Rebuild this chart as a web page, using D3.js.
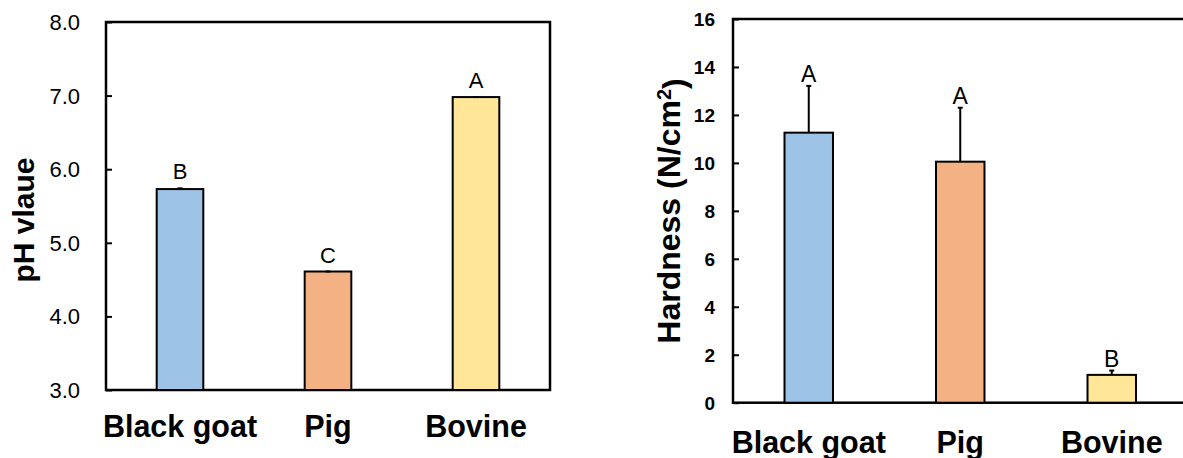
<!DOCTYPE html>
<html>
<head>
<meta charset="utf-8">
<script src="https://cdn.jsdelivr.net/npm/d3@7"></script>
<style>
  html, body { margin: 0; padding: 0; background: #fff; }
  svg { display: block; font-family: Arial, "Liberation Sans", sans-serif; }
</style>
</head>
<body>
<svg id="chart" width="1183" height="458"></svg>
<script>
// Meat samples
const categories = ["Black goat", "Pig", "Bovine"];
const barColors = ["#9DC3E6", "#F4B183", "#FFE699"];

// pH values
const phValues = [5.73, 4.61, 6.98];
const phErrors = [0.01, 0, 0];
const phLetters = ["B", "C", "A"];
const phTicks = [3, 4, 5, 6, 7, 8];

// Hardness (N/cm²)
const hardValues = [11.26, 10.05, 1.16];
const hardErrors = [1.95, 2.25, 0.18];
const hardLetters = ["A", "A", "B"];
const hardTicks = [0, 2, 4, 6, 8, 10, 12, 14, 16];

const svg = d3.select("#chart");

function panel(cfg) {
  const g = svg.append("g");
  const x = d3.scaleBand()
    .domain(categories)
    .range([cfg.left, cfg.right])
    .paddingInner(cfg.pad)
    .paddingOuter(cfg.pad / 2);
  const y = d3.scaleLinear().domain(cfg.domain).range([cfg.bottom, cfg.top]);

  // frame
  g.append("rect")
    .attr("x", cfg.left).attr("y", cfg.top)
    .attr("width", cfg.right - cfg.left).attr("height", cfg.bottom - cfg.top)
    .attr("fill", "none").attr("stroke", "#000").attr("stroke-width", 2.5);

  // inward ticks on the y axis
  const yAxis = d3.axisRight(y).tickValues(cfg.ticks).tickSize(6).tickFormat("");
  const ya = g.append("g").attr("transform", `translate(${cfg.left},0)`).call(yAxis);
  ya.select(".domain").remove();
  ya.selectAll(".tick line").attr("stroke", "#000").attr("stroke-width", 2);

  // tick labels
  g.selectAll(".ylab").data(cfg.ticks).join("text")
    .attr("x", cfg.labelX).attr("y", d => y(d))
    .attr("dy", "0.36em")
    .attr("text-anchor", "end")
    .attr("font-size", cfg.tickFont)
    .attr("font-weight", cfg.tickWeight)
    .attr("fill", "#000")
    .text(cfg.fmt);

  // bars
  g.selectAll(".bar").data(cfg.values).join("rect")
    .attr("x", (d, i) => x(categories[i]))
    .attr("y", d => y(d))
    .attr("width", x.bandwidth())
    .attr("height", d => cfg.bottom - y(d))
    .attr("fill", (d, i) => barColors[i])
    .attr("stroke", "#000").attr("stroke-width", 2);

  // upper error bars
  const cx = i => x(categories[i]) + x.bandwidth() / 2;
  g.selectAll(".err").data(cfg.values).join("line")
    .attr("x1", (d, i) => cx(i)).attr("x2", (d, i) => cx(i))
    .attr("y1", d => y(d)).attr("y2", (d, i) => y(d + cfg.errors[i]))
    .attr("stroke", "#000").attr("stroke-width", 2);
  g.selectAll(".cap").data(cfg.values).join("line")
    .attr("x1", (d, i) => cx(i) - 2.5).attr("x2", (d, i) => cx(i) + 2.5)
    .attr("y1", (d, i) => y(d + cfg.errors[i])).attr("y2", (d, i) => y(d + cfg.errors[i]))
    .attr("stroke", "#000").attr("stroke-width", 2);

  // significance letters
  g.selectAll(".sig").data(cfg.values).join("text")
    .attr("x", (d, i) => cx(i))
    .attr("y", (d, i) => y(d + cfg.errors[i]) - cfg.letterGap)
    .attr("text-anchor", "middle")
    .attr("font-size", cfg.letterFont)
    .attr("fill", "#000")
    .text((d, i) => cfg.letters[i]);

  // category labels
  g.selectAll(".xlab").data(categories).join("text")
    .attr("x", d => x(d) + x.bandwidth() / 2)
    .attr("y", cfg.xLabelY)
    .attr("text-anchor", "middle")
    .attr("font-size", 30.5)
    .attr("font-weight", "bold")
    .attr("fill", "#000")
    .text(d => d);

  // y title
  const t = g.append("text")
    .attr("transform", `translate(${cfg.titleX},${cfg.titleY}) rotate(-90)`)
    .attr("text-anchor", "middle")
    .attr("font-size", cfg.titleFont)
    .attr("font-weight", "bold")
    .attr("fill", "#000");
  cfg.title(t);
}

panel({
  left: 106, right: 550, top: 22, bottom: 390, pad: 0.685,
  domain: [3, 8], ticks: phTicks, fmt: d => d3.format(".1f")(d),
  labelX: 80, tickFont: 22, tickWeight: "normal",
  values: phValues, errors: phErrors, letters: phLetters, letterGap: 9,
  letterFont: 22,
  xLabelY: 437, titleX: 34, titleY: 220, titleFont: 30,
  title: t => t.text("pH vlaue")
});

panel({
  left: 733, right: 733 + 3 * 151.5, top: 19, bottom: 402.7, pad: 0.68,
  domain: [0, 16], ticks: hardTicks, fmt: d => d,
  labelX: 715, tickFont: 19, tickWeight: "bold",
  values: hardValues, errors: hardErrors, letters: hardLetters, letterGap: 4,
  letterFont: 23,
  xLabelY: 453, titleX: 680, titleY: 211, titleFont: 32,
  title: t => {
    t.append("tspan").text("Hardness (N/cm");
    t.append("tspan").attr("dy", "-0.45em").attr("font-size", 20).text("2");
    t.append("tspan").attr("dy", "0.45em").text(")");
  }
});
</script>
</body>
</html>
